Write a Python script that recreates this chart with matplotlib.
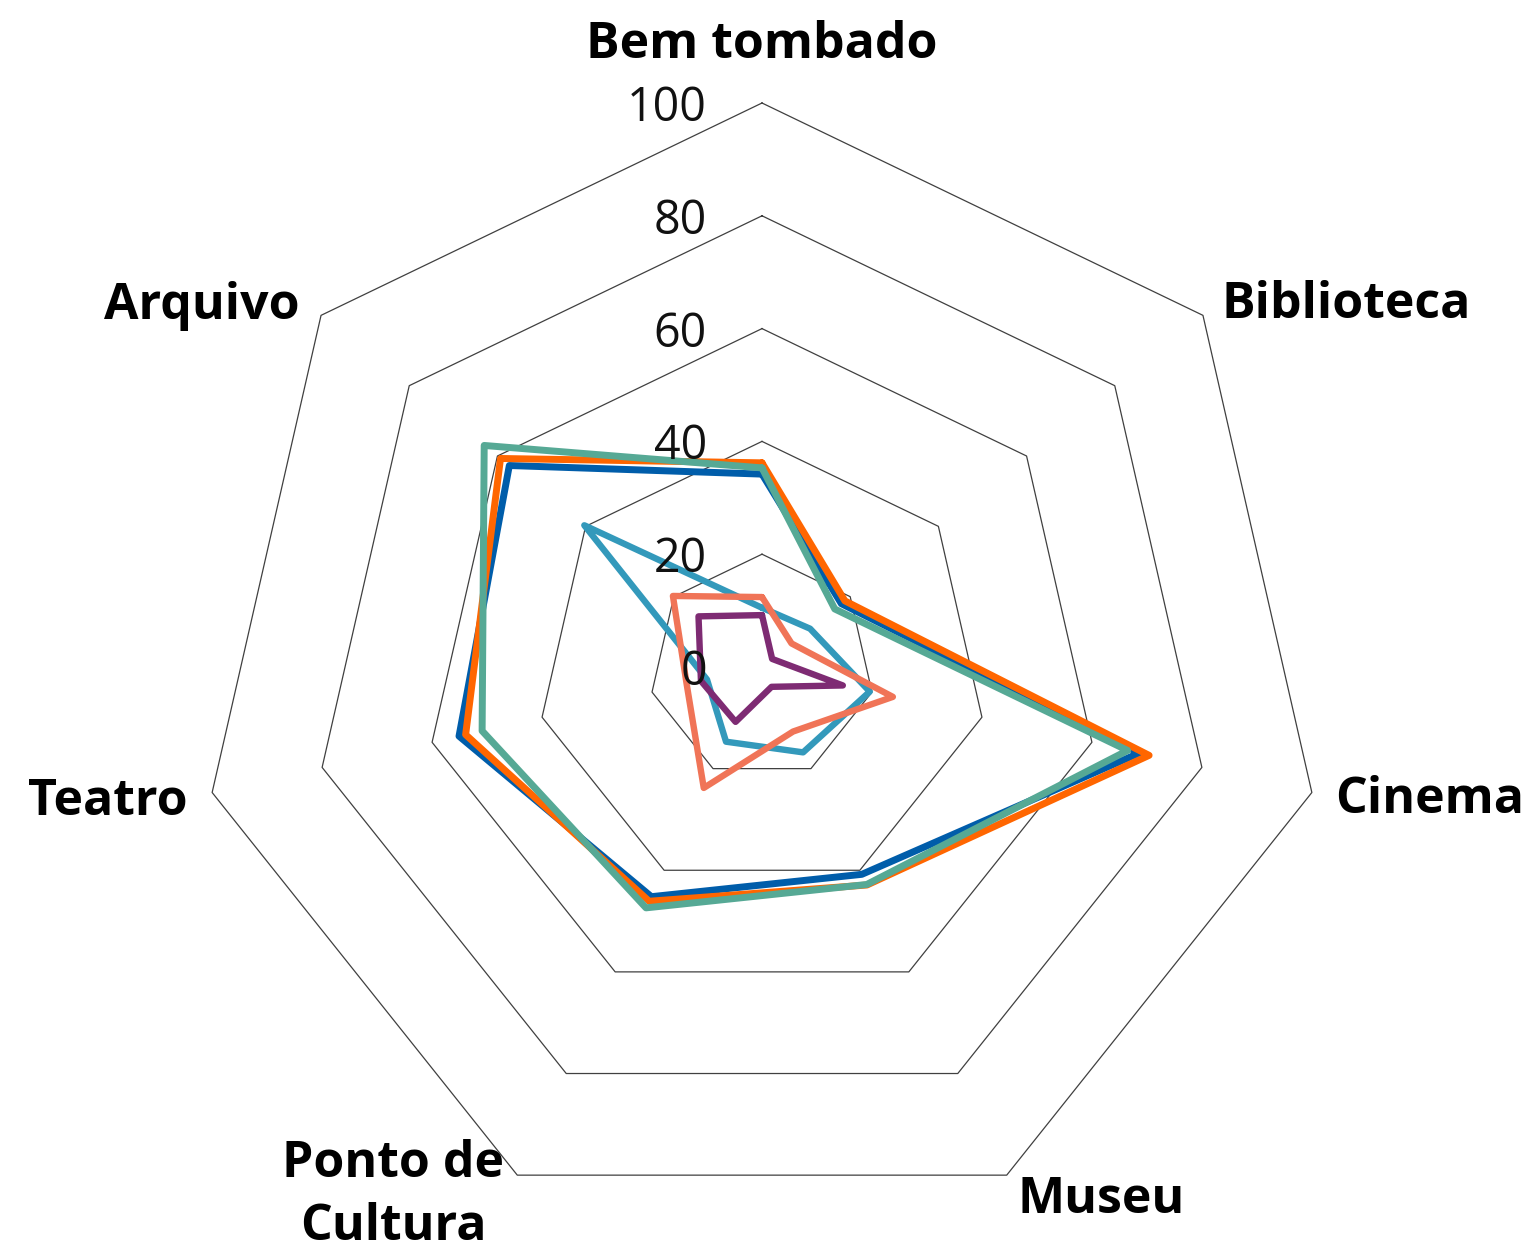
import numpy as np
import matplotlib
matplotlib.use("Agg")
import matplotlib.pyplot as plt

categories = ["Bem tombado", "Biblioteca", "Cinema", "Museu", "Ponto de\nCultura", "Teatro", "Arquivo"]
ring_levels = [0, 20, 40, 60, 80, 100]

serie_azul = [34.2, 18.0, 68.6, 40.8, 45.2, 55.1, 57.3]
serie_laranja = [36.2, 18.8, 70.4, 42.9, 46.1, 53.9, 59.3]
serie_verde = [35.3, 16.5, 66.5, 42.8, 47.4, 50.9, 63.0]
serie_azul_claro = [10.5, 10.9, 19.6, 16.8, 14.7, 10.0, 40.3]
serie_salmao = [12.4, 6.7, 23.8, 12.7, 23.8, 13.7, 20.2]
serie_roxo = [9.2, 2.3, 14.7, 3.9, 10.8, 11.1, 14.4]

series = [
    (serie_azul, "#005DAA", 5.0),
    (serie_laranja, "#FF6600", 5.0),
    (serie_verde, "#56A995", 5.0),
    (serie_azul_claro, "#3399BB", 4.6),
    (serie_salmao, "#F07457", 4.6),
    (serie_roxo, "#7E2B73", 4.6),
]

W, H = 1528, 1252
fig = plt.figure(figsize=(W / 100, H / 100), dpi=100)
cx, cy, R = 762, 667, 564
ax = fig.add_axes([(cx - R) / W, 1 - (cy + R) / H, 2 * R / W, 2 * R / H], projection="polar")
ax.set_theta_zero_location("N")
ax.set_theta_direction(-1)
ax.set_ylim(0, 100)
ax.grid(False)
ax.spines["polar"].set_visible(False)
ax.set_xticks([])
ax.set_yticks([])
ax.patch.set_visible(False)

n = len(categories)
theta = np.arange(n) * 2 * np.pi / n
theta_c = np.append(theta, theta[0])

for lv in ring_levels[1:]:
    ax.plot(theta_c, [lv] * (n + 1), color="#404040", lw=0.9, zorder=1, clip_on=False)

for vals, col, lw in series:
    v = np.append(vals, vals[0])
    ax.plot(theta_c, v, color=col, lw=lw, zorder=3, clip_on=False,
            solid_joinstyle="round", solid_capstyle="round")

fam = ["Open Sans", "DejaVu Sans"]
for lv in ring_levels:
    y = cy - lv * R / 100 + 18
    fig.text(707 / W, 1 - y / H, str(lv), ha="right", va="baseline",
             fontsize=33.5, family=fam, color="#111111", zorder=2)

# (x, baseline y, ha) per label line
label_pos = [
    [(762, 58, "center")],
    [(1222, 318, "left")],
    [(1335, 813, "left")],
    [(1018, 1213, "left")],
    [(393, 1177, "center"), (393, 1240, "center")],
    [(188, 815, "right")],
    [(300, 319, "right")],
]
for lab, poss in zip(categories, label_pos):
    for line, (x, y, ha) in zip(lab.split("\n"), poss):
        fig.text(x / W, 1 - y / H, line, ha=ha, va="baseline", fontsize=36,
                 fontweight="bold", family=fam, color="black")

fig.savefig("out.png", dpi=100)
